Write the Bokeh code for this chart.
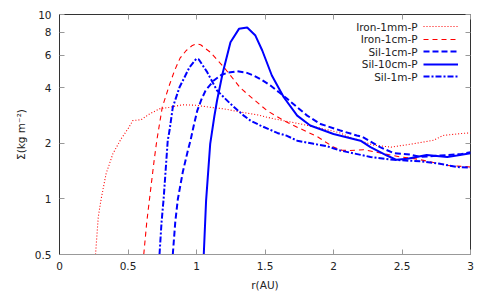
from bokeh.plotting import figure
from bokeh.models import (FixedTicker, LinearAxis, LogAxis, Legend, LegendItem,
                          Label, CustomJSTickFormatter)
from bokeh.embed import file_html
from bokeh.resources import INLINE

# ---------------- data ----------------
iron_1mm_x = [0.263, 0.283, 0.304, 0.34, 0.39, 0.45, 0.50, 0.535, 0.596, 0.657, 0.73, 0.80,
              0.90, 1.0, 1.10, 1.20, 1.32, 1.45, 1.564, 1.76, 1.905, 2.05, 2.12, 2.29, 2.42,
              2.58, 2.73, 2.80, 2.95, 3.0]
iron_1mm_y = [0.5, 0.8, 1.0, 1.37, 1.76, 2.12, 2.40, 2.66, 2.69, 2.89, 3.08, 3.14,
              3.24, 3.22, 3.14, 3.08, 2.96, 2.85, 2.72, 2.55, 2.42, 2.28, 2.16, 1.96, 1.91,
              1.99, 2.08, 2.21, 2.27, 2.28]

iron_1cm_x = [0.615, 0.637, 0.657, 0.69, 0.71, 0.75, 0.80, 0.84, 0.88, 0.925, 0.97, 1.0,
              1.03, 1.10, 1.20, 1.32, 1.42, 1.516, 1.637, 1.75, 1.88, 2.0, 2.06, 2.12,
              2.22, 2.30, 2.365, 2.49, 2.60, 2.69, 2.83, 2.95, 3.0]
iron_1cm_y = [0.5, 0.75, 1.0, 1.6, 2.07, 3.14, 4.1, 4.97, 5.8, 6.38, 6.8, 6.93,
              6.85, 6.25, 5.18, 4.0, 3.45, 3.01, 2.66, 2.42, 2.18, 1.91, 1.84, 1.83,
              1.85, 1.80, 1.76, 1.69, 1.65, 1.60, 1.52, 1.50, 1.49]

sil_1cm_x = [0.827, 0.845, 0.864, 0.90, 0.937, 0.956, 0.98, 1.005, 1.035, 1.066, 1.126,
             1.18, 1.224, 1.297, 1.36, 1.418, 1.48, 1.54, 1.60, 1.662, 1.74, 1.808, 1.905,
             2.05, 2.17, 2.21, 2.34, 2.44, 2.56, 2.635, 2.78, 2.93, 3.0]
sil_1cm_y = [0.5, 0.75, 1.0, 1.4, 1.83, 2.07, 2.5, 3.0, 3.45, 3.87, 4.39,
             4.7, 4.83, 4.92, 4.85, 4.67, 4.4, 4.12, 3.8, 3.49, 3.12, 2.83, 2.55,
             2.35, 2.21, 2.17, 1.91, 1.77, 1.74, 1.69, 1.72, 1.75, 1.79]

sil_10cm_x = [1.053, 1.07, 1.10, 1.13, 1.15, 1.19, 1.248, 1.31, 1.37, 1.43, 1.48, 1.55,
              1.637, 1.735, 1.83, 2.0, 2.197, 2.27, 2.39, 2.46, 2.54, 2.68, 2.83, 2.90, 3.0]
sil_10cm_y = [0.5, 0.98, 1.99, 2.8, 3.42, 4.77, 7.07, 8.36, 8.5, 7.69, 6.38, 4.67,
              3.56, 2.83, 2.50, 2.25, 2.07, 1.91, 1.72, 1.63, 1.65, 1.73, 1.69, 1.72, 1.77]

sil_1m_x = [0.73, 0.745, 0.76, 0.79, 0.803, 0.827, 0.876, 0.949, 0.998, 1.017, 1.078, 1.15,
            1.248, 1.345, 1.394, 1.467, 1.59, 1.66, 1.735, 1.856, 1.954, 2.05, 2.27, 2.44,
            2.635, 2.78, 2.90, 3.0]
sil_1m_y = [0.5, 0.75, 1.0, 2.07, 2.35, 3.14, 4.03, 5.18, 5.75, 5.7, 4.87, 3.87,
            3.28, 2.83, 2.66, 2.50, 2.28, 2.2, 2.07, 1.99, 1.93, 1.83, 1.69, 1.63,
            1.60, 1.55, 1.49, 1.48]

series_names = ["Iron-1mm-P", "Iron-1cm-P", "Sil-1cm-P", "Sil-10cm-P", "Sil-1m-P"]

xtick_vals = [0, 0.5, 1, 1.5, 2, 2.5, 3]
xtick_labels = ["0", "0.5", "1", "1.5", "2", "2.5", "3"]
ytick_vals = [0.5, 1, 2, 4, 6, 8, 10]
ytick_labels = ["0.5", "1", "2", "4", "6", "8", "10"]

# ---------------- styling ----------------
FONT = "DejaVu Sans"
FS = "10.5px"
TXT = "#222222"
TICK = "#999999"
FRAME = "#333333"

p = figure(width=491, height=294, x_range=(0, 3), y_range=(0.5, 10),
           y_axis_type="log", output_backend="svg", toolbar_location=None,
           min_border_left=59, min_border_right=21, min_border_top=14,
           min_border_bottom=40)
p.xgrid.visible = False
p.ygrid.visible = False
p.outline_line_color = FRAME
p.outline_line_width = 1
p.background_fill_color = "white"
p.border_fill_color = "white"

styles = [
    dict(color="#ff0000", line_width=1.1, line_dash="1 2"),
    dict(color="#ff0000", line_width=1.1, line_dash="5 4"),
    dict(color="#0000ff", line_width=2.0, line_dash="6 3"),
    dict(color="#0000ff", line_width=2.0, line_dash="solid"),
    dict(color="#0000ff", line_width=2.0, line_dash="6 2 2 2"),
]
xs = [iron_1mm_x, iron_1cm_x, sil_1cm_x, sil_10cm_x, sil_1m_x]
ys = [iron_1mm_y, iron_1cm_y, sil_1cm_y, sil_10cm_y, sil_1m_y]

renderers = []
for x, y, st in zip(xs, ys, styles):
    r = p.line(x, y, line_color=st["color"], line_width=st["line_width"],
               line_dash=st["line_dash"])
    renderers.append(r)

def style_axis(ax):
    ax.major_tick_in = 5
    ax.major_tick_out = 0
    ax.minor_tick_in = 0
    ax.minor_tick_out = 0
    ax.major_tick_line_color = TICK
    ax.major_label_text_font = FONT
    ax.major_label_text_font_size = FS
    ax.major_label_text_color = TXT
    ax.axis_label_text_font = FONT
    ax.axis_label_text_font_size = FS
    ax.axis_label_text_color = TXT
    ax.axis_label_text_font_style = "normal"

xax = p.xaxis[0]
xax.ticker = FixedTicker(ticks=xtick_vals)
xax.major_label_overrides = dict(zip(xtick_vals, xtick_labels))
style_axis(xax)
xax.axis_line_color = TICK
xax.major_label_standoff = 7
xax.axis_label = "r(AU)"
xax.axis_label_standoff = 6

yax = p.yaxis[0]
yax.ticker = FixedTicker(ticks=ytick_vals)
yax.major_label_overrides = dict(zip(ytick_vals, ytick_labels))
style_axis(yax)
yax.axis_line_color = FRAME
yax.major_label_standoff = 8
yax.axis_label = "Σ(kg m⁻²)"
yax.axis_label_standoff = 5

blank = CustomJSTickFormatter(code="return ''")
top = LinearAxis(ticker=FixedTicker(ticks=xtick_vals), formatter=blank)
style_axis(top)
top.axis_line_color = None
top.major_label_standoff = 0
top.major_label_text_font_size = "1px"
p.add_layout(top, "above")

right = LogAxis(ticker=FixedTicker(ticks=ytick_vals), formatter=blank)
style_axis(right)
right.axis_line_color = None
right.major_label_standoff = 0
right.major_label_text_font_size = "1px"
p.add_layout(right, "right")

# legend: text on the left (Labels), line samples on the right (one Legend per row)
FRAME_H = 240
row_c = [12, 24.5, 37, 49.5, 62]   # row centres from frame top (px)
ROW_H = 12
for name, r, c in zip(series_names, renderers, row_c):
    lg = Legend(items=[LegendItem(label=" ", renderers=[r])],
                location=(364, FRAME_H - c - ROW_H / 2),
                glyph_width=35, glyph_height=ROW_H, label_height=ROW_H,
                label_width=0, label_standoff=0, padding=0, margin=0, spacing=0,
                label_text_font_size="8px",
                border_line_color=None, background_fill_alpha=0)
    p.add_layout(lg, "center")
    p.add_layout(Label(x=358, y=FRAME_H - c, x_units="screen", y_units="screen",
                       text=name, text_align="right", text_baseline="middle",
                       text_font=FONT, text_font_size=FS, text_color=TXT))

open("out.html", "w").write(file_html(p, INLINE))
